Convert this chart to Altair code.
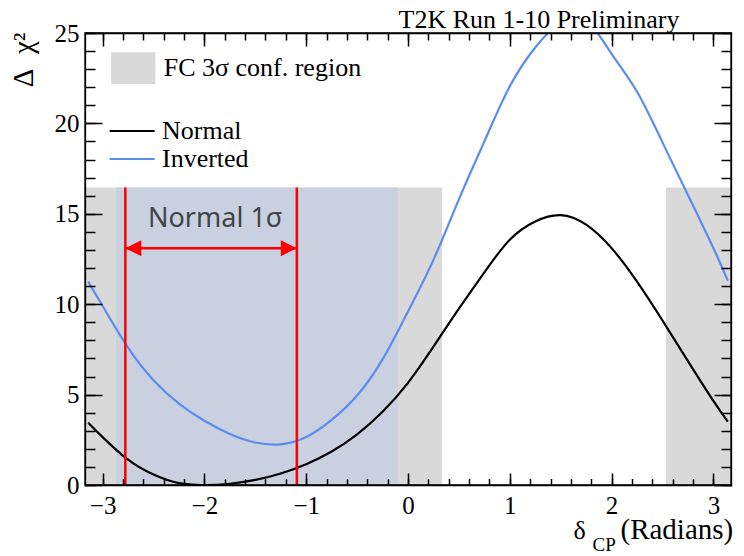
import altair as alt
import pandas as pd

# ---------------- data ----------------
delta_cp = [-3.1416, -3.0, -2.75, -2.5, -2.25, -2.0, -1.75, -1.5, -1.25, -1.0,
            -0.75, -0.5, -0.25, 0.0, 0.25, 0.5, 0.75, 1.0, 1.25, 1.5,
            1.75, 2.0, 2.25, 2.5, 2.75, 3.0, 3.1416]
normal_dchi2 = [3.45, 2.65, 1.4, 0.58, 0.10, 0.0, 0.07, 0.28, 0.64, 1.15,
                1.85, 2.8, 4.05, 5.65, 7.65, 9.75, 11.76, 13.57, 14.58, 14.93,
                14.4, 13.1, 11.25, 9.1, 6.85, 4.65, 3.5]
inverted_dchi2 = [11.25, 9.9, 7.6, 5.8, 4.5, 3.55, 2.82, 2.35, 2.25, 2.65,
                  3.6, 4.95, 6.95, 9.6, 12.45, 15.8, 19.0, 22.05, 24.2, 25.6,
                  25.7, 23.85, 21.75, 18.95, 16.04, 13.1, 11.3]
hierarchies = ["Normal", "Inverted"]

FC_LABEL = "FC 3σ conf. region"
fc_from = [-3.173, 2.535]
fc_to = [0.335, 3.173]
fc_level = 16.45

band_from = [-2.868]
band_to = [-0.101]

sigma1_bounds = [-2.777, -1.092]
arrow_level = 13.1
arrow_dirs = ["left", "right"]
note_text = ["Normal 1σ"]
note_x = [-1.894]
note_y = [14.27]

TITLE = "T2K Run 1-10 Preliminary"

X_DOMAIN = [-3.173, 3.173]
Y_DOMAIN = [0, 25]
x_major = [-3, -2, -1, 0, 1, 2, 3]
x_minor = [-3.0, -2.8, -2.6, -2.4, -2.2, -2.0, -1.8, -1.6, -1.4, -1.2, -1.0,
           -0.8, -0.6, -0.4, -0.2, 0.0, 0.2, 0.4, 0.6, 0.8, 1.0, 1.2, 1.4,
           1.6, 1.8, 2.0, 2.2, 2.4, 2.6, 2.8, 3.0]
y_major = [0, 5, 10, 15, 20, 25]
y_minor = list(range(0, 26))

# window above the frame where the clipped Inverted peak is hidden
overflow_x = [1.3, 1.95]
overflow_y = [25.0, 26.1]

# ---------------- layout (pixels) ----------------
FRAME_W, FRAME_H = 646, 452          # frame box (85..731, 33..485)
TICK_B, TICK_T, TICK_S = 12, 13, 17  # inward major tick lengths: bottom, top, sides
MINOR_B, MINOR_T, MINOR_S = 6.5, 7, 10
# the view is the frame shrunk by the tick lengths; axes draw their ticks
# outward from the view, i.e. inward from the frame
VIEW_W = FRAME_W - 2 * TICK_S
VIEW_H = FRAME_H - TICK_B - TICK_T

# ---------------- tables ----------------
curve_df = pd.DataFrame({
    "delta": delta_cp * 2,
    "dchi2": normal_dchi2 + inverted_dchi2,
    "ordering": [hierarchies[0]] * len(delta_cp) + [hierarchies[1]] * len(delta_cp),
})
fc_df = pd.DataFrame({"x0": fc_from, "x1": fc_to,
                      "y0": [0.0] * len(fc_from), "y1": [fc_level] * len(fc_from),
                      "region": [FC_LABEL] * len(fc_from)})
band_df = pd.DataFrame({"x0": band_from, "x1": band_to, "y0": [0.0], "y1": [fc_level]})
red_df = pd.DataFrame({"x": sigma1_bounds, "y0": [0.0, 0.0], "y1": [fc_level, fc_level]})
arrow_df = pd.DataFrame({"x0": [sigma1_bounds[0]], "x1": [sigma1_bounds[1]], "y": [arrow_level]})
head_df = pd.DataFrame({"x": sigma1_bounds, "y": [arrow_level, arrow_level], "dir": arrow_dirs})
note_df = pd.DataFrame({"x": note_x, "y": note_y, "t": note_text})
mask_df = pd.DataFrame({"x0": [overflow_x[0]], "x1": [overflow_x[1]],
                        "y0": [overflow_y[0]], "y1": [overflow_y[1]]})
frame_df = pd.DataFrame({"x0": [X_DOMAIN[0]], "x1": [X_DOMAIN[1]],
                         "y0": [Y_DOMAIN[0]], "y1": [Y_DOMAIN[1]]})

SERIF = "Liberation Serif"
# scales map the full frame domain onto a pixel range that reaches past the view
xs = alt.Scale(domain=X_DOMAIN, range=[-TICK_S, VIEW_W + TICK_S], nice=False, zero=False)
ys = alt.Scale(domain=Y_DOMAIN, range=[VIEW_H + TICK_B, -TICK_T], nice=False, zero=False)


def tick_axis(orient, values, size, offset, **kw):
    return alt.Axis(orient=orient, values=values, tickCount=len(values), tickSize=size,
                    offset=offset, ticks=True, tickColor="black", tickWidth=1.5,
                    domain=False, grid=False, zindex=1, **kw)


def frame_axis(orient, offset):
    return alt.Axis(orient=orient, values=[0], tickCount=1, offset=offset, ticks=False,
                    labels=False, grid=False, domain=True, domainColor="black",
                    domainWidth=1.3, domainCap="square", title=None, zindex=1)


label_style = dict(labels=True, format="d", labelFont=SERIF, labelFontSize=25,
                   labelColor="black", labelFlush=False, labelOverlap=False)
title_style = dict(titleFont=SERIF, titleFontWeight="normal", titleColor="black",
                   titleBaseline="alphabetic", titleAngle=0, titleAlign="left")

RECT_PATH = "M-1,-0.72L1,-0.72L1,0.72L-1,0.72Z"
LINE_PATH = "M-2.5,0L2.5,0"
HEAD_LEFT = "M0,0L2,-1L2,1Z"
HEAD_RIGHT = "M0,0L-2,-1L-2,1Z"

fc = alt.Chart(fc_df).mark_rect().encode(
    x=alt.X("x0:Q", scale=xs, axis=tick_axis(
        "bottom", x_major, TICK_B, 0, labelPadding=8, **label_style,
        title="δ", titleFontSize=26, titleX=471, titleY=65, **title_style)),
    x2="x1:Q",
    y=alt.Y("y0:Q", scale=ys, axis=tick_axis(
        "left", y_major, TICK_S, 0, labelPadding=6, **label_style,
        title="Δ\u2002χ²", titleFontSize=29, titleAngle=270, titleAlign="right",
        titleX=-70, titleY=-14, titleFont=SERIF, titleFontWeight="normal",
        titleColor="black", titleBaseline="alphabetic")),
    y2="y1:Q",
    fill=alt.Fill("region:N", scale=alt.Scale(domain=[FC_LABEL], range=["#D9D9D9"]),
                  legend=alt.Legend(orient="none", legendX=8.7, legendY=-0.2, title=None,
                                    symbolType=RECT_PATH, symbolSize=1962,
                                    symbolStrokeWidth=0, symbolOpacity=1,
                                    labelFont=SERIF, labelFontSize=26, labelColor="black",
                                    labelOffset=8, labelLimit=400, padding=0)),
)

band = alt.Chart(band_df).mark_rect(color="#C9D0E0").encode(
    x=alt.X("x0:Q", scale=xs, axis=tick_axis(
        "bottom", x_minor, MINOR_B, TICK_B - MINOR_B, labels=False,
        title="CP", titleFontSize=19, titleX=490, titleY=71.5, **title_style)),
    x2="x1:Q",
    y=alt.Y("y0:Q", scale=ys, axis=tick_axis(
        "left", y_minor, MINOR_S, TICK_S - MINOR_S, labels=False, title=None)),
    y2="y1:Q",
)

lines = alt.Chart(curve_df).mark_line(strokeWidth=2.2, interpolate="natural").encode(
    x=alt.X("delta:Q", scale=xs, axis=tick_axis(
        "top", x_major, TICK_T, 0, labels=False,
        title="(Radians)", titleFontSize=29, titleX=518, titleY=492, **title_style)),
    y=alt.Y("dchi2:Q", scale=ys, axis=tick_axis(
        "right", y_major, TICK_S, 0, labels=False, title=None)),
    color=alt.Color("ordering:N",
                    scale=alt.Scale(domain=hierarchies, range=["#000000", "#5B8DEF"]),
                    legend=alt.Legend(orient="none", legendX=17.2, legendY=72, title=None,
                                      symbolType=LINE_PATH, symbolSize=324,
                                      symbolStrokeWidth=2.2,
                                      labelFont=SERIF, labelFontSize=26, labelColor="black",
                                      labelOffset=16.8, labelLimit=400, rowPadding=2,
                                      padding=0)),
)

mask = alt.Chart(mask_df).mark_rect(color="white").encode(
    x=alt.X("x0:Q", scale=xs, axis=None),
    x2="x1:Q",
    y=alt.Y("y0:Q", scale=ys, axis=None),
    y2="y1:Q",
)

rules = alt.Chart(red_df).mark_rule(color="#FF0000", strokeWidth=2.5).encode(
    x=alt.X("x:Q", scale=xs, axis=tick_axis(
        "top", x_minor, MINOR_T, TICK_T - MINOR_T, labels=False,
        title=TITLE, titleFontSize=26, titleX=296, titleY=-13, **title_style)),
    y=alt.Y("y0:Q", scale=ys, axis=tick_axis(
        "right", y_minor, MINOR_S, TICK_S - MINOR_S, labels=False, title=None)),
    y2="y1:Q",
)

arrow = alt.Chart(arrow_df).mark_rule(color="#FF0000", strokeWidth=2.5).encode(
    x=alt.X("x0:Q", scale=xs, axis=frame_axis("bottom", TICK_B)),
    x2="x1:Q",
    y=alt.Y("y:Q", scale=ys, axis=frame_axis("left", TICK_S)),
)

heads = alt.Chart(head_df).mark_point(filled=True, size=256, opacity=1, color="#FF0000").encode(
    x=alt.X("x:Q", scale=xs, axis=frame_axis("top", TICK_T)),
    y=alt.Y("y:Q", scale=ys, axis=frame_axis("right", TICK_S)),
    shape=alt.Shape("dir:N", scale=alt.Scale(domain=arrow_dirs, range=[HEAD_LEFT, HEAD_RIGHT]),
                    legend=None),
)

note = alt.Chart(note_df).mark_text(font="Noto Sans", fontSize=27, color="#404548",
                                    align="center", baseline="alphabetic").encode(
    x=alt.X("x:Q", scale=xs, axis=None),
    y=alt.Y("y:Q", scale=ys, axis=None),
    text="t:N",
)

frame = alt.Chart(frame_df).mark_rect(filled=False, color="black", strokeWidth=1.3).encode(
    x=alt.X("x0:Q", scale=xs, axis=None),
    x2="x1:Q",
    y=alt.Y("y0:Q", scale=ys, axis=None),
    y2="y1:Q",
)

chart = alt.layer(fc, band, lines, mask, rules, arrow, heads, note, frame).resolve_axis(
    x="independent", y="independent"
).properties(
    width=VIEW_W,
    height=VIEW_H,
    autosize=alt.AutoSizeParams(type="none"),
    padding={"left": 85 + TICK_S, "top": 33 + TICK_T,
             "right": 744 - 85 - FRAME_W + TICK_S, "bottom": 556 - 33 - FRAME_H + TICK_B},
).configure(
    background="white",
    view=alt.ViewConfig(stroke="transparent"),
)

chart.save("out.html", embed_options={"renderer": "svg", "actions": False})
